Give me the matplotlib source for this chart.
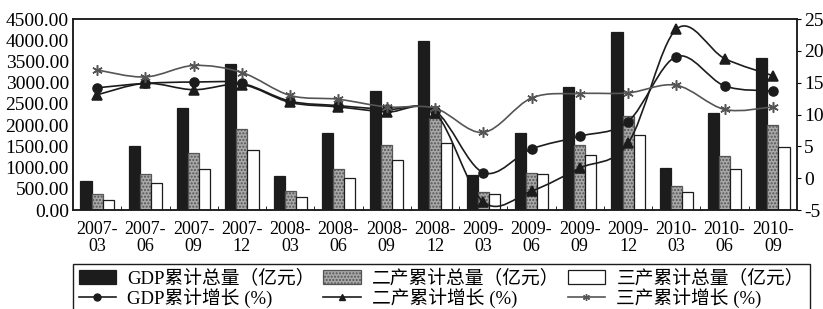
"""
plot.py

GDP / secondary / tertiary industry cumulative totals (bars) and cumulative growth (lines), 2007-03 to 2010-09
"""

import matplotlib

matplotlib.use("Agg")
import matplotlib.pyplot as plt
from matplotlib.lines import Line2D
from matplotlib.patches import Patch, PathPatch
from matplotlib.path import Path
from matplotlib.ticker import FormatStrFormatter, FixedLocator

plt.rcParams["font.family"] = ["Liberation Serif", "Noto Sans CJK SC"]
plt.rcParams["axes.unicode_minus"] = False

quarters = [
    "2007-\n03", "2007-\n06", "2007-\n09", "2007-\n12",
    "2008-\n03", "2008-\n06", "2008-\n09", "2008-\n12",
    "2009-\n03", "2009-\n06", "2009-\n09", "2009-\n12",
    "2010-\n03", "2010-\n06", "2010-\n09",
]

# cumulative totals (100 million yuan)
gdp_total = [690, 1520, 2400, 3450, 810, 1820, 2800, 3990, 825, 1805, 2890, 4200, 1000, 2280, 3590]
sec_total = [370, 850, 1335, 1905, 440, 965, 1525, 2170, 415, 880, 1530, 2215, 565, 1270, 1995]
ter_total = [250, 645, 960, 1405, 315, 745, 1170, 1570, 370, 850, 1295, 1780, 415, 965, 1490]

# cumulative growth (%)
gdp_growth = [14.2, 14.9, 15.1, 14.9, 12.1, 11.4, 10.8, 10.6, 0.9, 4.6, 6.6, 8.9, 19.1, 14.5, 13.7]
sec_growth = [13.1, 14.9, 13.9, 14.7, 11.9, 11.2, 10.4, 10.3, -3.7, -2.0, 1.6, 5.5, 23.4, 18.8, 16.1]
ter_growth = [17.0, 15.9, 17.7, 16.6, 13.0, 12.4, 11.2, 11.0, 7.2, 12.6, 13.3, 13.4, 14.6, 10.8, 11.2]

bar_labels = ["GDP累计总量（亿元）", "二产累计总量（亿元）", "三产累计总量（亿元）"]
line_labels = ["GDP累计增长 (%)", "二产累计增长 (%)", "三产累计增长 (%)"]


def smooth_path(xs, ys):
    # Catmull-Rom style curve through the data points, as cubic Bezier segments
    pts = list(zip(xs, ys))
    verts = [pts[0]]
    codes = [Path.MOVETO]
    n = len(pts)
    for i in range(n - 1):
        p0 = pts[max(i - 1, 0)]
        p1 = pts[i]
        p2 = pts[i + 1]
        p3 = pts[min(i + 2, n - 1)]
        c1 = (p1[0] + (p2[0] - p0[0]) / 6, p1[1] + (p2[1] - p0[1]) / 6)
        c2 = (p2[0] - (p3[0] - p1[0]) / 6, p2[1] - (p3[1] - p1[1]) / 6)
        verts += [c1, c2, p2]
        codes += [Path.CURVE4] * 3
    return Path(verts, codes)


def plot():
    fig = plt.figure(figsize=(8.23, 3.09), dpi=100)
    fig.patch.set_facecolor("white")
    ax = fig.add_axes([0.0887, 0.320, 0.8797, 0.6185])
    ax2 = ax.twinx()

    x = list(range(len(quarters)))
    w = 0.23
    bar_styles = [
        dict(color="#1c1c1c", edgecolor="#1c1c1c"),
        dict(color="#a8a8a8", edgecolor="#555555", hatch="....."),
        dict(color="white", edgecolor="#1c1c1c"),
    ]
    handles = []
    for k, (vals, style) in enumerate(zip([gdp_total, sec_total, ter_total], bar_styles)):
        ax.bar([i + (k - 1) * w for i in x], vals, width=w, linewidth=0.9, **style)

    line_styles = [
        dict(color="#1c1c1c", marker="o", ms=6.5),
        dict(color="#1c1c1c", marker="^", ms=6.5),
        dict(color="#555555", marker=(6, 2, 0), ms=7.5),
    ]
    for vals, style in zip([gdp_growth, sec_growth, ter_growth], line_styles):
        ax2.add_patch(PathPatch(smooth_path(x, vals), fill=False, edgecolor=style["color"], linewidth=1.2))
        ax2.plot(x, vals, linestyle="none", marker=style["marker"], ms=style["ms"],
                 color=style["color"], markeredgewidth=1.1)

    ax.set_xlim(-0.5, len(quarters) - 0.5)
    ax.set_ylim(0, 4500)
    ax2.set_ylim(-5, 25)
    ax.set_yticks(range(0, 4501, 500))
    ax.yaxis.set_major_formatter(FormatStrFormatter("%.2f"))
    ax2.set_yticks(range(-5, 26, 5))
    ax.set_xticks(x)
    ax.set_xticklabels(quarters, fontsize=13, linespacing=0.95)
    ax.xaxis.set_minor_locator(FixedLocator([i + 0.5 for i in x[:-1]]))
    ax.tick_params(axis="x", which="major", length=0, pad=8)
    ax.tick_params(axis="x", which="minor", direction="in", length=3)
    ax.tick_params(axis="y", labelsize=14, length=0, pad=3)
    ax2.tick_params(axis="y", labelsize=14, length=3, direction="out", pad=2)
    for a in (ax, ax2):
        for s in a.spines.values():
            s.set_linewidth(1.1)
            s.set_color("#1c1c1c")

    for k in range(3):
        handles.append(Patch(facecolor=bar_styles[k]["color"], edgecolor=bar_styles[k]["edgecolor"],
                             hatch=bar_styles[k].get("hatch"), linewidth=0.9, label=bar_labels[k]))
        handles.append(Line2D([], [], color=line_styles[k]["color"], marker=line_styles[k]["marker"],
                              ms=5, linewidth=1.2, label=line_labels[k]))

    leg = fig.legend(handles=handles, ncol=3, loc="upper left", mode="expand",
                     bbox_to_anchor=(0.0887, -0.2, 0.895, 0.3456), fontsize=13.5,
                     frameon=True, fancybox=False, edgecolor="#1c1c1c", framealpha=1,
                     handlelength=2.0, handleheight=0.7, handletextpad=0.6, columnspacing=1.0,
                     borderpad=0.3, labelspacing=0.0, borderaxespad=0)
    leg.get_frame().set_linewidth(1.0)

    plt.savefig("out.png", dpi=100)


if __name__ == "__main__":
    plot()
